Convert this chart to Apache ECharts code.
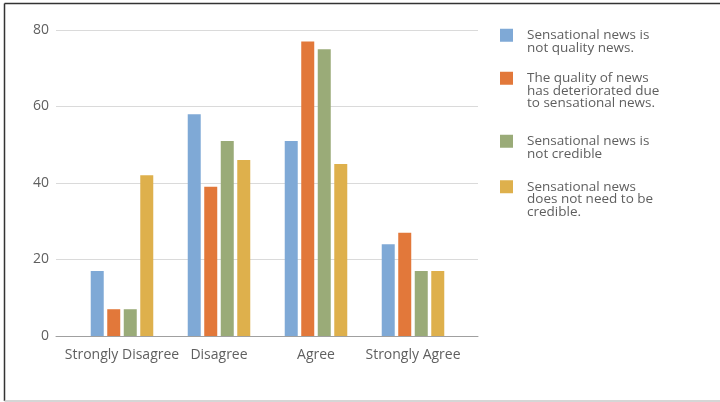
<!DOCTYPE html>
<html>
<head>
<meta charset="utf-8">
<script src="https://cdn.jsdelivr.net/npm/echarts@6/dist/echarts.min.js"></script>
<style>
  html, body { margin: 0; padding: 0; background: #fff; }
  #chart { width: 720px; height: 402px; }
</style>
</head>
<body>
<div id="chart"></div>
<script>
const categories = ['Strongly Disagree', 'Disagree', 'Agree', 'Strongly Agree'];
const seriesNames = [
  'Sensational news is not quality news.',
  'The quality of news has deteriorated due to sensational news.',
  'Sensational news is not credible',
  'Sensational news does not need to be credible.'
];
const legendLabels = [
  'Sensational news is\nnot quality news.',
  'The quality of news\nhas deteriorated due\nto sensational news.',
  'Sensational news is\nnot credible',
  'Sensational news\ndoes not need to be\ncredible.'
];
const notQuality = [17, 58, 51, 24];
const deteriorated = [7, 39, 77, 27];
const notCredible = [7, 51, 75, 17];
const needNotBeCredible = [42, 46, 45, 17];
const yTicks = [0, 20, 40, 60, 80];

const values = [notQuality, deteriorated, notCredible, needNotBeCredible];
const colors = ['#7fa9d6', '#e2783a', '#9aab78', '#deb04c'];
const font = '"Open Sans", sans-serif';
const textColor = '#5f5f5f';

const lineH = 12.5;
const iconTops = [28, 71, 134, 179.5];

const legends = seriesNames.map((name, i) => {
  const lines = legendLabels[i].split('\n');
  const n = lines.length;
  // pad with blank lines above so the first text line is centred on the icon
  const padded = new Array(n - 1).fill('').concat(lines).join('\n');
  const boxH = (2 * n - 1) * lineH;
  const offset = 6.5 - boxH / 2;
  return {
    data: [{ name: name, icon: 'rect' }],
    left: 500,
    top: iconTops[i] + offset,
    padding: 0,
    itemWidth: 13,
    itemHeight: 13,
    selectedMode: false,
    formatter: () => padded,
    textStyle: {
      fontFamily: font,
      fontSize: 13.5,
      lineHeight: lineH,
      color: textColor,
      padding: [0, 0, 0, 9]
    }
  };
});

const chart = echarts.init(document.getElementById('chart'), null, { renderer: 'canvas' });
chart.setOption({
  animation: false,
  backgroundColor: '#fff',
  legend: legends,
  grid: [
    { left: 56, width: 422, top: 30, bottom: 66 },
    { left: 73.5, width: 388, top: 30, bottom: 66 }
  ],
  xAxis: [
    {
      gridIndex: 0, type: 'value', min: 0, max: 1,
      axisLine: { show: true, onZero: false, lineStyle: { color: '#a0a0a0', width: 1 } },
      axisTick: { show: false }, axisLabel: { show: false }, splitLine: { show: false }
    },
    {
      gridIndex: 1, type: 'category', data: categories,
      axisLine: { show: false }, axisTick: { show: false },
      axisLabel: { margin: 12, fontFamily: font, fontSize: 14, color: textColor, interval: 0 }
    }
  ],
  yAxis: [
    {
      gridIndex: 0, type: 'value', min: yTicks[0], max: yTicks[yTicks.length - 1], interval: 20,
      axisLine: { show: false }, axisTick: { show: false },
      axisLabel: { margin: 7, fontFamily: font, fontSize: 14, color: textColor },
      splitLine: { lineStyle: { color: '#dadada', width: 1 } }
    },
    {
      gridIndex: 1, type: 'value', min: yTicks[0], max: yTicks[yTicks.length - 1], interval: 20,
      show: false, splitLine: { show: false }
    }
  ],
  series: seriesNames.map((name, i) => ({
    name: name,
    type: 'bar',
    xAxisIndex: 1,
    yAxisIndex: 1,
    data: values[i],
    barWidth: 13,
    barGap: '27%',
    itemStyle: { color: colors[i] }
  })),
  graphic: [
    { type: 'line', shape: { x1: 4.5, y1: 3.5, x2: 720, y2: 3.5 }, style: { stroke: '#333', lineWidth: 1.5 }, silent: true },
    { type: 'line', shape: { x1: 4.5, y1: 3.5, x2: 4.5, y2: 401 }, style: { stroke: '#333', lineWidth: 1.5 }, silent: true },
    { type: 'line', shape: { x1: 4.5, y1: 401, x2: 720, y2: 401 }, style: { stroke: '#c8c8c8', lineWidth: 1.5 }, silent: true }
  ]
});
</script>
</body>
</html>
